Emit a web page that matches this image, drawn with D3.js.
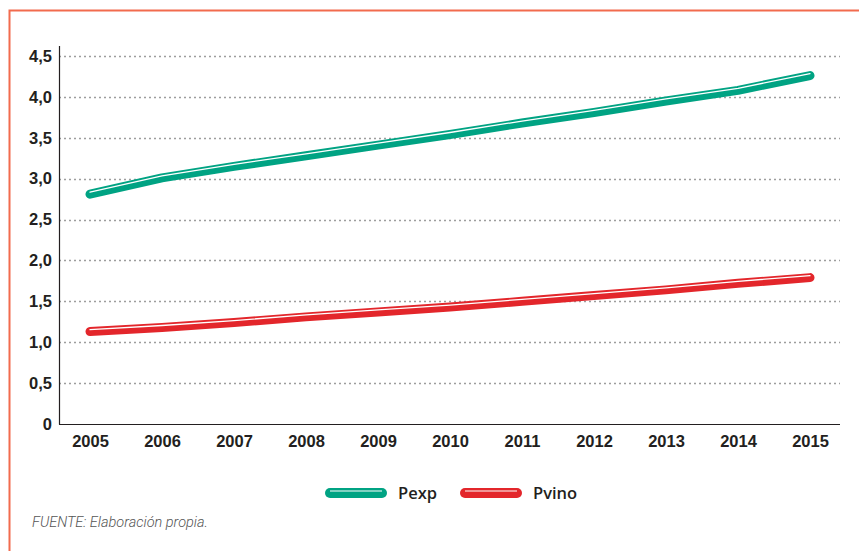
<!DOCTYPE html>
<html>
<head>
<meta charset="utf-8">
<script src="https://cdn.jsdelivr.net/npm/d3@7"></script>
<style>
  body { margin: 0; background: #fff; }
  svg { display: block; font-family: "Open Sans", Roboto, sans-serif; }
  .tick text { fill: #231f20; font-size: 16.5px; font-weight: 600; }
</style>
</head>
<body>
<div id="chart"></div>
<script>
const years = [2005, 2006, 2007, 2008, 2009, 2010, 2011, 2012, 2013, 2014, 2015];
const pexp = [2.81, 3.01, 3.15, 3.28, 3.41, 3.54, 3.68, 3.81, 3.95, 4.08, 4.26];
const pvino = [1.13, 1.18, 1.24, 1.31, 1.37, 1.43, 1.50, 1.57, 1.64, 1.72, 1.79];
const yTicks = [0, 0.5, 1, 1.5, 2, 2.5, 3, 3.5, 4, 4.5];
const seriesNames = ["Pexp", "Pvino"];
const seriesColors = ["#00a383", "#e3262b"];

const W = 859, H = 551;
const svg = d3.select("#chart").append("svg").attr("width", W).attr("height", H);

// frame (open on right / bottom)
svg.append("path")
  .attr("d", "M9.5,551 V10.5 H859")
  .attr("fill", "none").attr("stroke", "#f26b4e").attr("stroke-width", 2);

const mLeft = 59, mRight = 840, mTop = 46, mBottom = 424;

const x = d3.scalePoint().domain(years).range([90, 810]);
const y = d3.scaleLinear().domain([0, 4.5]).range([mBottom, 56]);

// grid
svg.append("g").selectAll("line").data(yTicks.filter(d => d > 0)).enter().append("line")
  .attr("x1", mLeft).attr("x2", mRight)
  .attr("y1", d => Math.round(y(d)) + 0.5).attr("y2", d => Math.round(y(d)) + 0.5)
  .attr("stroke", "#9d9d9d").attr("stroke-width", 1.3).attr("stroke-dasharray", "2,3");

// axes
const yAxis = svg.append("g").attr("transform", `translate(${mLeft},0)`)
  .call(d3.axisLeft(y).tickValues(yTicks).tickSize(0).tickPadding(7)
    .tickFormat(d => d === 0 ? "0" : d3.format(".1f")(d).replace(".", ",")));
yAxis.select(".domain").remove();
svg.append("line").attr("x1", mLeft + 0.5).attr("x2", mLeft + 0.5).attr("y1", mTop).attr("y2", mBottom + 0.5)
  .attr("stroke", "#231f20").attr("stroke-width", 1.2);

const xAxis = svg.append("g").attr("transform", `translate(0,${mBottom})`)
  .call(d3.axisBottom(x).tickSize(0).tickPadding(11).tickFormat(d3.format("d")));
xAxis.select(".domain").remove();
svg.append("line").attr("x1", mLeft).attr("x2", mRight).attr("y1", mBottom + 0.5).attr("y2", mBottom + 0.5)
  .attr("stroke", "#231f20").attr("stroke-width", 1.2);

// lines
const line = d3.line().x((d, i) => x(years[i])).y(d => y(d));
[pexp, pvino].forEach((vals, k) => {
  svg.append("path").attr("d", line(vals))
    .attr("fill", "none").attr("stroke", seriesColors[k])
    .attr("stroke-width", 9).attr("stroke-linecap", "round").attr("stroke-linejoin", "round");
  svg.append("path").attr("d", line(vals)).attr("transform", "translate(0,-2)")
    .attr("fill", "none").attr("stroke", "#fff")
    .attr("stroke-width", 1.3).attr("stroke-linecap", "round");
});

// legend
const legendX = [325, 460];
seriesNames.forEach((name, k) => {
  const g = svg.append("g").attr("transform", `translate(${legendX[k]},493)`);
  g.append("line").attr("x1", 5).attr("x2", 57).attr("y1", 0).attr("y2", 0)
    .attr("stroke", seriesColors[k]).attr("stroke-width", 10).attr("stroke-linecap", "round");
  g.append("line").attr("x1", 5).attr("x2", 57).attr("y1", -2).attr("y2", -2)
    .attr("stroke", "#fff").attr("stroke-width", 1.2);
  g.append("text").attr("x", 73).attr("y", 6).text(name)
    .attr("font-size", 16.5).attr("font-weight", 600).attr("fill", "#231f20");
});

svg.append("text").attr("x", 32).attr("y", 527)
  .text("FUENTE: Elaboración propia.")
  .attr("font-family", "Roboto, sans-serif")
  .attr("font-size", 14.5).attr("font-weight", 300).attr("font-style", "italic").attr("fill", "#555");
</script>
</body>
</html>
